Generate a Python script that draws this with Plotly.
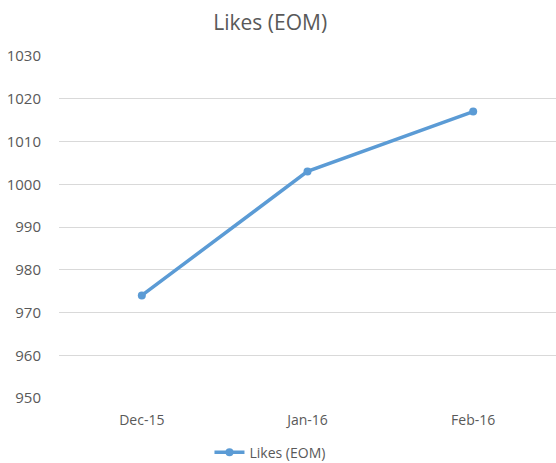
import plotly.graph_objects as go

months = ["Dec-15", "Jan-16", "Feb-16"]
likes = [974, 1003, 1017]
y_ticks = [950, 960, 970, 980, 990, 1000, 1010, 1020, 1030]

color = "#5B9BD5"
text_color = "#595959"
font_family = "Open Sans, Liberation Sans, sans-serif"

fig = go.Figure()
fig.add_trace(go.Scatter(
    x=months, y=likes, mode="lines+markers", name="Likes (EOM)",
    line=dict(color=color, width=3.5),
    marker=dict(color=color, size=8),
))

fig.update_layout(
    width=556, height=463,
    margin=dict(l=59, r=0, t=56, b=65, autoexpand=False),
    paper_bgcolor="white", plot_bgcolor="white",
    font=dict(family=font_family, color=text_color, size=14),
    title=dict(text="Likes (EOM)", x=0.486, xanchor="center", y=0.952, yanchor="middle",
               font=dict(size=21, color=text_color, family=font_family)),
    showlegend=True,
    legend=dict(orientation="h", x=0.4245, xanchor="center", y=-0.16, yanchor="middle",
                font=dict(size=14, color=text_color), itemwidth=30),
    xaxis=dict(type="category", range=[-0.5, 2.5], showgrid=False, zeroline=False,
               showline=False, ticks="", ticklabelstandoff=12, tickfont=dict(size=14)),
    yaxis=dict(range=[950, 1030], tickvals=y_ticks, showgrid=True, gridcolor="#D9D9D9",
               gridwidth=1, zeroline=False, showline=False, ticks="", ticklabelstandoff=17,
               tickfont=dict(size=15)),
)

fig.write_html("out.html", config={"displayModeBar": False},
               post_script="document.body.style.margin='0';")
